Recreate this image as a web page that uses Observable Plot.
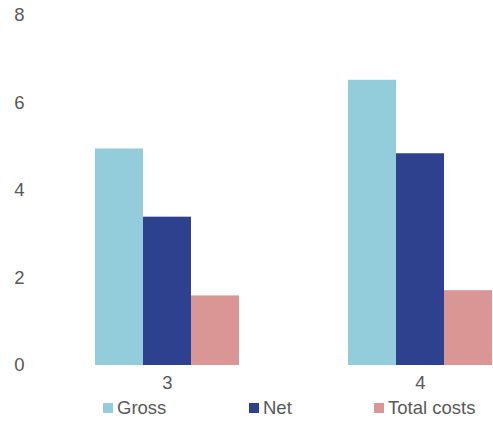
<!DOCTYPE html>
<html>
<head>
<meta charset="utf-8">
<script src="https://cdn.jsdelivr.net/npm/d3@7"></script>
<script src="https://cdn.jsdelivr.net/npm/@observablehq/plot@0.6"></script>
<style>
  body { margin: 0; background: #fff; }
  #wrap { position: relative; width: 493px; height: 421px; font-family: "Liberation Sans", Arial, sans-serif; }
  .leg { position: absolute; top: 397px; font-size: 18.5px; color: #595959; display: flex; align-items: center; white-space: nowrap; }
  .leg span.sw { display: inline-block; width: 10px; height: 10px; margin-right: 4px; }
</style>
</head>
<body>
<div id="wrap"></div>
<script>
const groups = ["3", "4"];
const series = ["Gross", "Net", "Total costs"];
const colors = ["#93CDDC", "#2D418E", "#DA9694"];
const gross = [4.95, 6.52];
const net = [3.39, 4.84];
const totalCosts = [1.59, 1.71];
const yTicks = [0, 2, 4, 6, 8];

const values = [gross, net, totalCosts];
const data = [];
groups.forEach((g, gi) => series.forEach((s, si) => data.push({group: g, series: s, value: values[si][gi]})));

const chart = Plot.plot({
  width: 493,
  height: 395,
  marginLeft: 94,
  marginRight: 0,
  marginTop: 15,
  marginBottom: 30,
  style: {fontSize: "18.5px", fontFamily: "'Liberation Sans', Arial, sans-serif", color: "#595959", background: "#fff"},
  fx: {domain: groups, paddingInner: 0.423, paddingOuter: 0, axis: "bottom", tickSize: 0, tickPadding: 10, label: null},
  x: {domain: series, padding: 0, axis: null},
  y: {domain: [0, 8], ticks: yTicks, tickSize: 0, tickPadding: 70, label: null},
  color: {domain: series, range: colors},
  marks: [
    Plot.barY(data, {fx: "group", x: "series", y: "value", fill: "series", inset: 0})
  ]
});
const wrap = document.getElementById("wrap");
wrap.appendChild(chart);

const legX = [103, 249, 374];
series.forEach((s, i) => {
  const d = document.createElement("div");
  d.className = "leg";
  d.style.left = legX[i] + "px";
  d.innerHTML = `<span class="sw" style="background:${colors[i]}"></span>${s}`;
  wrap.appendChild(d);
});
</script>
</body>
</html>
